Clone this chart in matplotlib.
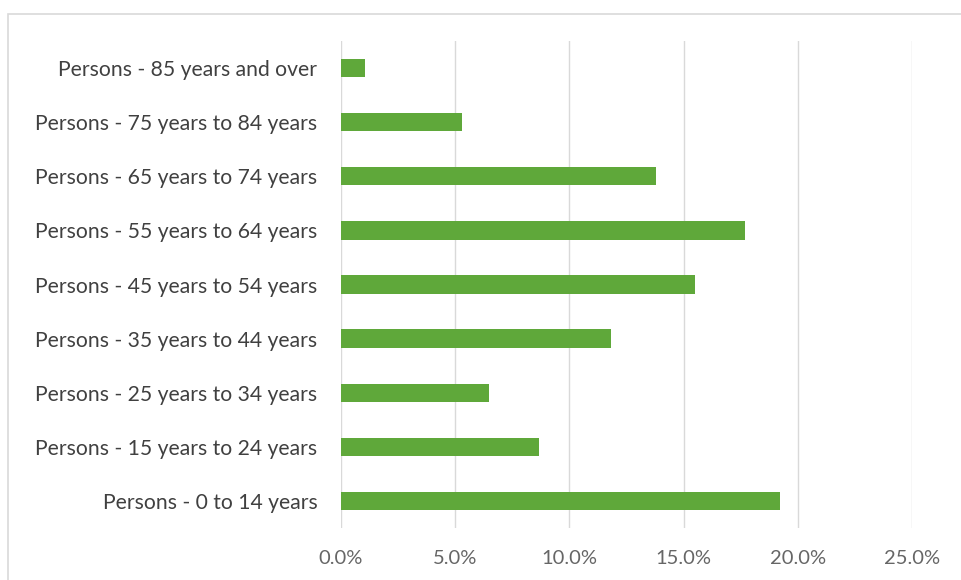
import matplotlib
matplotlib.use("Agg")
import matplotlib.pyplot as plt
from matplotlib.patches import Rectangle
from matplotlib.ticker import FuncFormatter

categories = [
    "Persons - 0 to 14 years",
    "Persons - 15 years to 24 years",
    "Persons - 25 years to 34 years",
    "Persons - 35 years to 44 years",
    "Persons - 45 years to 54 years",
    "Persons - 55 years to 64 years",
    "Persons - 65 years to 74 years",
    "Persons - 75 years to 84 years",
    "Persons - 85 years and over",
]
values = [19.2, 8.65, 6.5, 11.8, 15.5, 17.7, 13.8, 5.3, 1.05]
x_ticks = [0, 5, 10, 15, 20, 25]

plt.rcParams['font.family'] = ['Lato', 'DejaVu Sans']

fig = plt.figure(figsize=(9.62, 5.80), dpi=100)
fig.patch.set_facecolor("white")

# outer chart border
fig.patches.append(Rectangle((8/962, -0.01), 1.0, 1.01 - 14/580, transform=fig.transFigure,
                             fill=False, edgecolor="#d9d9d9", linewidth=1.2))

ax = fig.add_axes([341/962, 1 - 528/580, (912 - 341)/962, (528 - 41)/580])
y = list(range(len(categories)))
ax.barh(y, values, height=0.34, color="#5fa83a", zorder=3)
ax.set_yticks(y)
ax.set_yticklabels(categories, fontsize=15.2, color="#404040")
ax.set_ylim(-0.5, len(categories) - 0.5)
ax.set_xlim(0, 25)
ax.set_xticks(x_ticks)
ax.xaxis.set_major_formatter(FuncFormatter(lambda v, p: f"{v:.1f}%"))
ax.tick_params(axis='x', labelsize=14.5, colors="#666666", length=0, pad=16)
ax.tick_params(axis='y', length=0, pad=17)
ax.grid(axis='x', color="#d9d9d9", linewidth=1, zorder=0)
for s in ax.spines.values():
    s.set_visible(False)

fig.savefig("out.png", dpi=100)
